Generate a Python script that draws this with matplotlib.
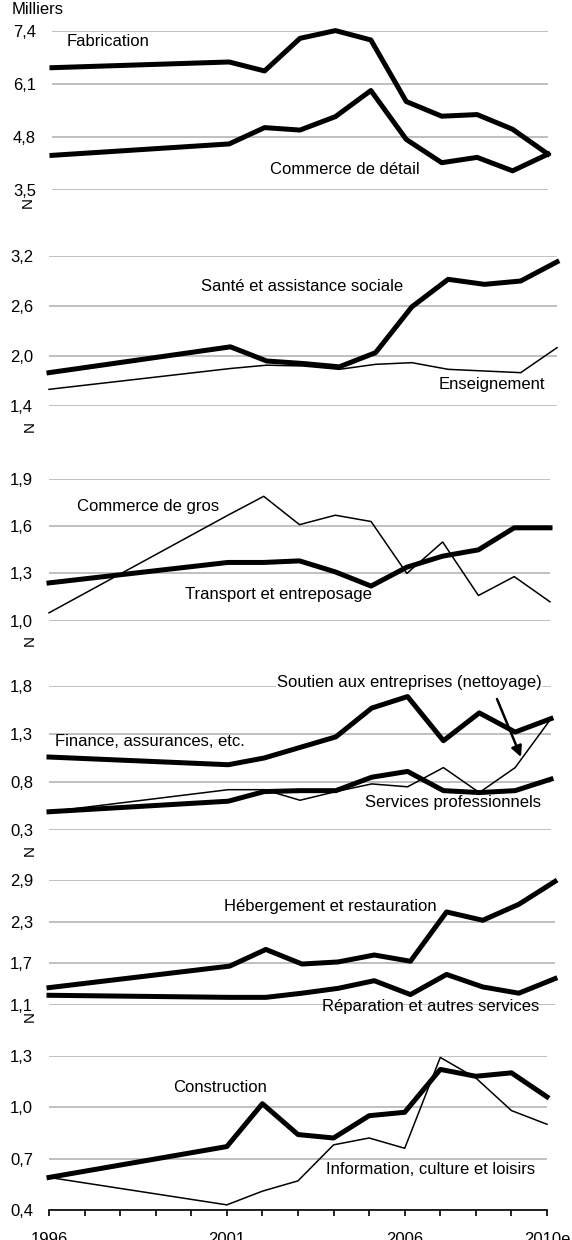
import matplotlib.pyplot as plt

plt.rcParams['font.family'] = ['Liberation Sans Narrow', 'Liberation Sans', 'DejaVu Sans']

W, H = 572, 1240

years = [1996, 2001, 2002, 2003, 2004, 2005, 2006, 2007, 2008, 2009, 2010]
year_ticks = list(range(1996, 2011))
year_labels = {1996: "1996", 2001: "2001", 2006: "2006", 2010: "2010e"}

# milliers d'emplois
fabrication = [6.50, 6.64, 6.42, 7.22, 7.41, 7.18, 5.67, 5.31, 5.35, 4.99, 4.38]
commerce_detail = [4.35, 4.63, 5.03, 4.97, 5.30, 5.94, 4.74, 4.17, 4.30, 3.97, 4.38]
sante = [1.80, 2.11, 1.94, 1.91, 1.87, 2.04, 2.59, 2.92, 2.86, 2.90, 3.13]
enseignement = [1.60, 1.85, 1.89, 1.88, 1.84, 1.90, 1.92, 1.84, 1.82, 1.80, 2.10]
commerce_gros = [1.05, 1.67, 1.79, 1.61, 1.67, 1.63, 1.30, 1.50, 1.16, 1.28, 1.12]
transport = [1.24, 1.37, 1.37, 1.38, 1.31, 1.22, 1.34, 1.41, 1.45, 1.59, 1.59]
finance = [1.06, 0.98, 1.05, 1.16, 1.27, 1.57, 1.69, 1.23, 1.52, 1.32, 1.46]
services_pro = [0.49, 0.60, 0.70, 0.71, 0.71, 0.85, 0.91, 0.71, 0.69, 0.71, 0.83]
soutien = [0.49, 0.72, 0.72, 0.61, 0.70, 0.78, 0.75, 0.95, 0.69, 0.95, 1.46]
hebergement = [1.35, 1.66, 1.90, 1.69, 1.72, 1.82, 1.73, 2.44, 2.32, 2.55, 2.88]
reparation = [1.24, 1.21, 1.21, 1.27, 1.34, 1.45, 1.25, 1.54, 1.36, 1.27, 1.48]
construction = [0.59, 0.77, 1.02, 0.84, 0.82, 0.95, 0.97, 1.22, 1.18, 1.20, 1.06]
information = [0.59, 0.43, 0.51, 0.57, 0.78, 0.82, 0.76, 1.29, 1.17, 0.98, 0.90]

ticks1 = [3.5, 4.8, 6.1, 7.4]
ticks2 = [1.4, 2.0, 2.6, 3.2]
ticks3 = [1.0, 1.3, 1.6, 1.9]
ticks4 = [0.3, 0.8, 1.3, 1.8]
ticks5 = [1.1, 1.7, 2.3, 2.9]
ticks6 = [0.4, 0.7, 1.0, 1.3]

THICK = 3.6
THIN = 1.1
GRID = '#c0c0c0'


def fx(x):
    return x / W


def fy(y):
    return 1 - y / H


def panel(left, right, top, bottom, ticks):
    ax = fig.add_axes([fx(left), fy(bottom), (right - left) / W, (bottom - top) / H])
    ax.set_xlim(1996, 2010)
    ax.set_ylim(ticks[0], ticks[-1])
    ax.set_yticks(ticks)
    ax.set_yticklabels([f"{t:.1f}".replace(".", ",") for t in ticks])
    ax.tick_params(axis='y', length=0, pad=11.5, labelsize=12)
    ax.set_xticks([])
    for s in ax.spines.values():
        s.set_visible(False)
    ax.grid(axis='y', color=GRID, lw=1.4)
    ax.set_axisbelow(True)
    ax.patch.set_alpha(0)
    return ax


def label(x, y, s, **kw):
    fig.text(fx(x), fy(y), s, ha='left', va='center', fontsize=12, **kw)


def brk(x, y):
    fig.text(fx(x), fy(y), "N", rotation=90, ha='center', va='center', fontsize=11)


fig = plt.figure(figsize=(W / 100, H / 100), dpi=100)

# 1
ax = panel(52, 548, 31, 190, ticks1)
ax.plot(years, fabrication, color='black', lw=THICK, clip_on=False)
ax.plot(years, commerce_detail, color='black', lw=THICK, clip_on=False)
label(67, 42, "Fabrication")
label(270, 170, "Commerce de détail")
brk(28, 202)

# 2
ax = panel(49, 557, 256, 406, ticks2)
ax.plot(years, enseignement, color='black', lw=THIN, clip_on=False)
ax.plot(years, sante, color='black', lw=THICK, clip_on=False)
label(201, 286, "Santé et assistance sociale")
label(439, 384, "Enseignement")
brk(30, 427)

# 3
ax = panel(49, 550, 479, 620.7, ticks3)
ax.plot(years, commerce_gros, color='black', lw=THIN, clip_on=False)
ax.plot(years, transport, color='black', lw=THICK, clip_on=False)
label(77, 506, "Commerce de gros")
label(185, 595, "Transport et entreposage")
brk(30, 640)

# 4
ax = panel(49, 551, 686, 830, ticks4)
ax.plot(years, soutien, color='black', lw=THIN, clip_on=False)
ax.plot(years, finance, color='black', lw=THICK, clip_on=False)
ax.plot(years, services_pro, color='black', lw=THICK, clip_on=False)
label(277, 682, "Soutien aux entreprises (nettoyage)",
      bbox=dict(facecolor='white', edgecolor='none', pad=0.5))
label(55, 741, "Finance, assurances, etc.")
label(365, 802, "Services professionnels")
ax.annotate("", xy=(fx(521), fy(757)), xytext=(fx(497), fy(699)),
            xycoords='figure fraction', textcoords='figure fraction',
            arrowprops=dict(arrowstyle='-|>', color='black', lw=1.8,
                            mutation_scale=16, shrinkA=0, shrinkB=0))
brk(30, 850)

# 5
ax = panel(49, 555, 880, 1005, ticks5)
ax.plot(years, hebergement, color='black', lw=THICK, clip_on=False)
ax.plot(years, reparation, color='black', lw=THICK, clip_on=False)
label(224, 906, "Hébergement et restauration")
label(322, 1006, "Réparation et autres services")
brk(30, 1017)

# 6
ax = panel(49, 547, 1055.7, 1210, ticks6)
ax.plot(years, information, color='black', lw=THIN, clip_on=False)
ax.plot(years, construction, color='black', lw=THICK, clip_on=False)
ax.spines['bottom'].set_visible(True)
ax.spines['bottom'].set_color('black')
ax.spines['bottom'].set_linewidth(1.2)
ax.set_xticks(year_ticks)
ax.set_xticklabels([year_labels.get(y, "") for y in year_ticks])
ax.tick_params(axis='x', length=4.5, width=1.2, pad=11, labelsize=12)
label(173, 1087, "Construction")
label(326, 1170, "Information, culture et loisirs")

fig.text(fx(12), fy(10), "Milliers", ha='left', va='center', fontsize=12)

fig.savefig("out.png", dpi=100)
